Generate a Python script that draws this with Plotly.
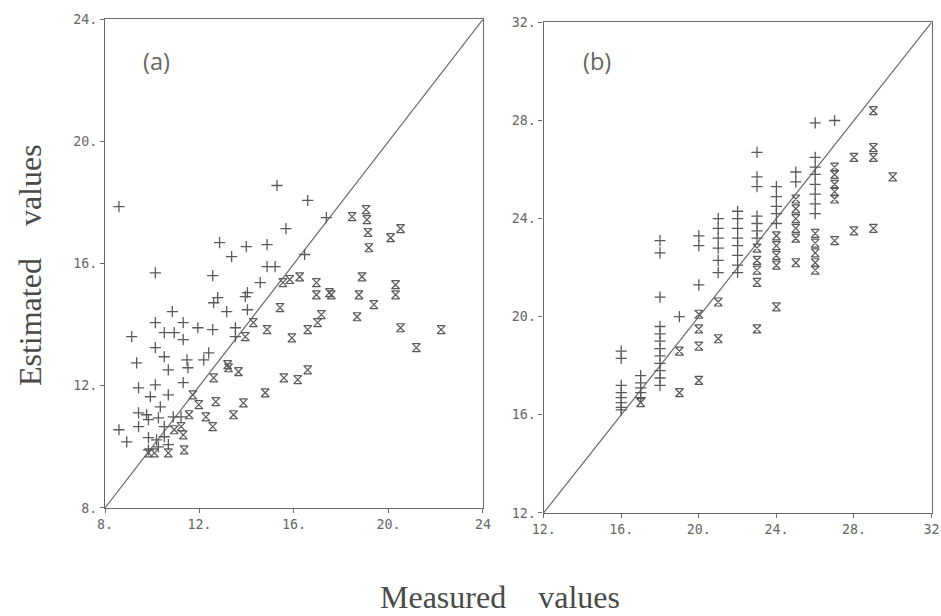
import plotly.graph_objects as go

# ---------------- Panel (a) data ----------------
a_plus_x = [8.59, 15.28, 16.58, 17.37, 15.66, 12.85, 13.98, 13.36, 14.86, 10.13,
            12.56, 16.45, 14.86, 15.20, 14.57, 14.03, 12.77, 10.85, 12.60, 13.15,
            10.13, 10.51, 10.93, 11.31, 11.31, 11.93, 12.56, 13.52, 9.13, 10.13,
            10.51, 10.68, 11.47, 11.51, 12.18, 12.39, 9.34, 9.42, 10.13, 9.92,
            10.68, 11.31, 10.34, 9.42, 9.76, 13.94, 14.03, 13.52, 8.59, 8.92,
            9.42, 9.84, 10.18, 9.84, 10.26, 10.51, 10.68, 9.84, 10.26, 10.89,
            11.22, 10.51]
a_plus_y = [17.87, 18.56, 18.07, 17.51, 17.15, 16.69, 16.56, 16.23, 16.62, 15.70,
            15.61, 16.30, 15.90, 15.90, 15.38, 15.05, 14.89, 14.43, 14.72, 14.43,
            14.07, 13.74, 13.74, 14.07, 13.51, 13.90, 13.84, 13.90, 13.61, 13.25,
            12.95, 12.52, 12.85, 12.59, 12.85, 13.08, 12.75, 11.93, 12.03, 11.64,
            11.70, 12.10, 11.31, 11.11, 11.05, 14.92, 14.49, 13.61, 10.56, 10.16,
            10.66, 10.30, 10.23, 9.90, 10.00, 10.33, 10.07, 10.89, 10.95, 10.98,
            10.98, 10.66]

a_x_x = [9.84, 10.09, 10.68, 11.35, 10.93, 11.31, 11.22, 11.56, 11.72, 11.97,
         12.27, 12.56, 12.69, 13.44, 13.86, 14.78, 12.60, 13.23, 13.65, 15.57,
         16.16, 16.58, 13.94, 14.86, 15.91, 16.58, 17.00, 17.16, 18.67, 19.38,
         20.51, 21.18, 22.23, 20.30, 18.75, 17.58, 16.95, 15.41, 14.28, 13.19,
         18.46, 19.05, 19.09, 19.13, 19.17, 20.09, 20.51, 18.88, 16.95, 16.24,
         15.82, 15.53, 20.30, 17.50]
a_x_y = [9.80, 9.80, 9.80, 9.90, 10.56, 10.39, 10.66, 11.05, 11.70, 11.38,
         10.98, 10.66, 11.48, 11.05, 11.44, 11.77, 12.26, 12.59, 12.46, 12.26,
         12.20, 12.52, 13.61, 13.84, 13.57, 13.84, 14.07, 14.33, 14.26, 14.66,
         13.90, 13.25, 13.84, 14.98, 14.98, 14.98, 14.98, 14.56, 14.07, 12.69,
         17.54, 17.77, 17.44, 17.02, 16.52, 16.85, 17.15, 15.57, 15.38, 15.57,
         15.48, 15.38, 15.31, 15.05]

# ---------------- Panel (b) data ----------------
b_plus_x = ([16] * 8 + [17] * 5 + [18] * 12 + [19] + [20] * 3 + [21] * 6 +
            [22] * 8 + [23] * 7 + [24] * 5 + [25] * 2 + [26] * 8 + [27])
b_plus_y = [18.6, 18.3, 17.2, 16.9, 16.7, 16.5, 16.3, 16.2,
            17.6, 17.3, 17.1, 16.9, 16.7,
            23.1, 22.6, 20.8, 19.6, 19.3, 19.0, 18.7, 18.4, 18.1, 17.8, 17.5, 17.2,
            20.0,
            23.3, 22.9, 21.3,
            24.0, 23.6, 23.2, 22.8, 22.3, 21.8,
            24.3, 24.0, 23.6, 23.2, 22.9, 22.5, 22.1, 21.8,
            26.7, 25.7, 25.3, 24.1, 23.8, 23.5, 23.2,
            25.3, 24.9, 24.5, 24.2, 23.8,
            25.9, 25.5,
            27.9, 26.5, 26.1, 25.8, 25.4, 25.0, 24.6, 24.2,
            28.0]

b_x_x = ([17] + [19] * 2 + [20] * 4 + [21] * 2 + [23] * 5 + [24] * 5 +
         [25] * 6 + [26] * 5 + [27] * 6 + [28] * 2 + [29] * 4 + [30])
b_x_y = [16.5,
         18.6, 16.9,
         20.1, 19.5, 18.8, 17.4,
         20.6, 19.1,
         22.8, 22.3, 21.9, 21.4, 19.5,
         23.3, 22.9, 22.5, 22.1, 20.4,
         24.8, 24.4, 24.0, 23.6, 23.2, 22.2,
         23.4, 23.0, 22.6, 22.2, 21.9,
         26.1, 25.8, 25.4, 25.1, 24.8, 23.1,
         26.5, 23.5,
         28.4, 26.9, 26.5, 23.6,
         25.7]

a_range = [8, 24]
b_range = [12, 32]
a_ticks = [8, 12, 16, 20, 24]
a_xticktext = ["8.", "12.", "16.", "20.", "24"]
a_yticktext = ["8.", "12.", "16.", "20.", "24."]
b_ticks = [12, 16, 20, 24, 28, 32]
b_xticktext = ["12.", "16.", "20.", "24.", "28.", "32"]
b_yticktext = ["12.", "16.", "20.", "24.", "28.", "32."]

INK = "#5a5a5a"
LINE = "#6a6a6a"

fig = go.Figure()

def add_panel(xa, ya, px, py, xx, xy, rng):
    fig.add_trace(go.Scatter(x=rng, y=rng, mode="lines", xaxis=xa, yaxis=ya,
                             line=dict(color=LINE, width=1.2), showlegend=False,
                             hoverinfo="skip"))
    fig.add_trace(go.Scatter(x=px, y=py, mode="markers", xaxis=xa, yaxis=ya,
                             marker=dict(symbol="cross-thin", size=8,
                                         line=dict(color=INK, width=1.3)),
                             showlegend=False))
    fig.add_trace(go.Scatter(x=xx, y=xy, mode="markers", xaxis=xa, yaxis=ya,
                             marker=dict(symbol="hourglass-open", size=8,
                                         color=INK,
                                         line=dict(color=INK, width=1.2)),
                             showlegend=False))

add_panel("x", "y", a_plus_x, a_plus_y, a_x_x, a_x_y, a_range)
add_panel("x2", "y2", b_plus_x, b_plus_y, b_x_x, b_x_y, b_range)

W, H = 941, 616
# the page is displayed with its default body margin and fitted into the
# window, so screen positions are mapped back to figure positions here
SX, OX = 0.984, 9.5
SY, OY = 0.9747, 7.6

def fx(px):
    return min(1.0, max(0.0, (px - OX) / SX / W))

def fy(py):
    return min(1.0, max(0.0, 1 - (py - OY) / SY / H))

tickfont = dict(family="DejaVu Sans Mono", size=13.3, color="#666666")
axis_common = dict(showline=True, mirror=True, linecolor=LINE, linewidth=1.3,
                   showgrid=False, zeroline=False, ticks="outside", ticklen=4,
                   tickcolor=LINE, tickfont=tickfont, fixedrange=True)

title_font = dict(family="Liberation Serif", size=32, color="#4a4a4a")
label_font = dict(family="Open Sans", size=23.5, color="#666666")

fig.update_layout(
    width=W, height=H,
    margin=dict(l=0, r=0, t=0, b=0),
    paper_bgcolor="white", plot_bgcolor="white",
    xaxis=dict(domain=[fx(103), fx(483)], range=a_range, tickvals=a_ticks,
               ticktext=a_xticktext, anchor="y", **axis_common),
    yaxis=dict(domain=[fy(508), fy(20)], range=a_range, tickvals=a_ticks,
               ticktext=a_yticktext, anchor="x", **axis_common),
    xaxis2=dict(domain=[fx(544), fx(934)], range=b_range, tickvals=b_ticks,
                ticktext=b_xticktext, anchor="y2", **axis_common),
    yaxis2=dict(domain=[fy(513), fy(23)], range=b_range, tickvals=b_ticks,
                ticktext=b_yticktext, anchor="x2", **axis_common),
    annotations=[
        dict(text="(a)", x=fx(155), y=fy(62), xref="paper", yref="paper",
             xanchor="center", yanchor="middle", showarrow=False, font=label_font),
        dict(text="(b)", x=fx(598), y=fy(62), xref="paper", yref="paper",
             xanchor="center", yanchor="middle", showarrow=False, font=label_font),
        dict(text="Estimated\u00a0\u00a0\u00a0\u00a0values", x=fx(27), y=fy(265),
             xref="paper", yref="paper", xanchor="center", yanchor="middle",
             textangle=-90, showarrow=False, font=title_font),
        dict(text="Measured\u00a0\u00a0\u00a0\u00a0values", x=fx(500), y=fy(597),
             xref="paper", yref="paper", xanchor="center", yanchor="middle",
             showarrow=False, font=title_font),
    ],
)

fig.write_html("out.html")
